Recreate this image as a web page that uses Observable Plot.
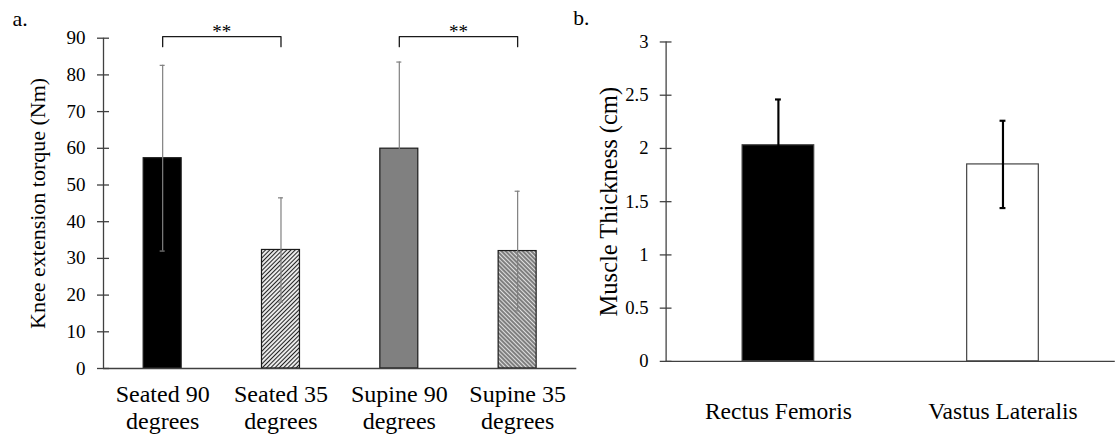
<!DOCTYPE html>
<html><head><meta charset="utf-8">
<script src="https://cdn.jsdelivr.net/npm/d3@7"></script>
<script src="https://cdn.jsdelivr.net/npm/@observablehq/plot@0.6"></script>
<style>
html,body{margin:0;padding:0;background:#fff;overflow:hidden;}
#wrap{position:relative;width:1119px;height:440px;overflow:hidden;}
#a{position:absolute;left:0;top:0;}
#b{position:absolute;left:560px;top:0;}
svg{overflow:visible;}
</style></head><body><div id="wrap"><div id="a"></div><div id="b"></div></div>
<script>
// ---------- data ----------
const torqueCategories = ["Seated 90 degrees", "Seated 35 degrees", "Supine 90 degrees", "Supine 35 degrees"];
const torqueMeans = [57.3, 32.3, 59.9, 32.0];
const torqueSD = [25.3, 14.2, 23.6, 16.3];
const torqueTicks = [0, 10, 20, 30, 40, 50, 60, 70, 80, 90];
const torqueLabel = "Knee extension torque (Nm)";
const brackets = [
  {id: 1, from: "Seated 90 degrees", to: "Seated 35 degrees", label: "**"},
  {id: 2, from: "Supine 90 degrees", to: "Supine 35 degrees", label: "**"}
];
const thicknessCategories = ["Rectus Femoris", "Vastus Lateralis"];
const thicknessMeans = [2.03, 1.85];
const thicknessSD = [0.43, 0.41];
const thicknessTicks = [0, 0.5, 1, 1.5, 2, 2.5, 3];
const thicknessLabel = "Muscle Thickness (cm)";
const panelLabels = ["a.", "b."];

// ---------- styling ----------
const FONT = "'Liberation Serif','Times New Roman',serif";
const AXIS = "#404040";

function addPatterns(svgEl) {
  const svg = d3.select(svgEl);
  const defs = svg.insert("defs", ":first-child");
  const up = defs.append("pattern").attr("id", "hatchUp").attr("patternUnits", "userSpaceOnUse")
    .attr("width", 3).attr("height", 3).attr("patternTransform", "rotate(45)");
  up.append("rect").attr("width", 3).attr("height", 3).attr("fill", "#fff");
  up.append("line").attr("x1", 1.5).attr("x2", 1.5).attr("y1", 0).attr("y2", 3)
    .attr("stroke", "#222").attr("stroke-width", 1.2);
  const down = defs.append("pattern").attr("id", "hatchDown").attr("patternUnits", "userSpaceOnUse")
    .attr("width", 3).attr("height", 3).attr("patternTransform", "rotate(-45)");
  down.append("rect").attr("width", 3).attr("height", 3).attr("fill", "#7a7a7a");
  down.append("line").attr("x1", 1.5).attr("x2", 1.5).attr("y1", 0).attr("y2", 3)
    .attr("stroke", "#e0e0e0").attr("stroke-width", 1.1);
}

// ---------- panel a ----------
const torque = torqueCategories.map((c, i) => ({cat: c, mean: torqueMeans[i], sd: torqueSD[i]}));
const WA = 580, MLA = 103, MRA = 3.7;
const stepA = (WA - MLA - MRA) / torqueCategories.length;
const bwA = stepA * (1 - 0.679);
const capA = 5;
const bracketTop = 90.45, bracketDrop = 87.7;
const bracketPts = brackets.flatMap(b => [
  {id: b.id, x: b.from, y: bracketDrop}, {id: b.id, x: b.from, y: bracketTop},
  {id: b.id, x: b.to, y: bracketTop}, {id: b.id, x: b.to, y: bracketDrop}
]);

const chartA = Plot.plot({
  width: WA, height: 440, marginLeft: MLA, marginRight: MRA, marginTop: 37.7, marginBottom: 72,
  style: {fontFamily: FONT, background: "transparent", color: "#000", overflow: "visible"},
  x: {domain: torqueCategories, paddingInner: 0.679, paddingOuter: 0.3395, round: false, axis: null},
  y: {domain: [0, 90], axis: null},
  color: {domain: torqueCategories, range: ["#000000", "url(#hatchUp)", "#808080", "url(#hatchDown)"]},
  marks: [
    Plot.barY(torque, {x: "cat", y: "mean", fill: "cat", stroke: "#1a1a1a", strokeWidth: 1.2}),
    Plot.ruleX(torque, {x: "cat", y1: d => d.mean - d.sd, y2: d => d.mean + d.sd, stroke: "#808080", strokeWidth: 1.2}),
    Plot.tickY(torque, {x: "cat", y: d => d.mean + d.sd, stroke: "#808080", strokeWidth: 1.2, insetLeft: (bwA - capA) / 2, insetRight: (bwA - capA) / 2}),
    Plot.tickY(torque, {x: "cat", y: d => d.mean - d.sd, stroke: "#808080", strokeWidth: 1.2, insetLeft: (bwA - capA) / 2, insetRight: (bwA - capA) / 2}),
    Plot.ruleY([0], {stroke: AXIS, strokeWidth: 1.3}),
    Plot.ruleX([0], {x: null, dx: -(WA - MLA - MRA) / 2, stroke: AXIS, strokeWidth: 1.3}),
    Plot.axisY({ticks: torqueTicks, tickSize: 12, dx: 6, tickPadding: 12, fontSize: 19, label: null, stroke: AXIS, strokeWidth: 1.3}),
    Plot.axisX({tickSize: 0, tickPadding: 14.5, fontSize: 24, lineHeight: 1.125, label: null,
      tickFormat: d => d.replace(" degrees", "\ndegrees")}),
    Plot.line(bracketPts, {x: "x", y: "y", z: "id", stroke: "#1a1a1a", strokeWidth: 1.3}),
    Plot.text(brackets, {x: "from", y: bracketTop, text: "label", dx: stepA / 2, dy: -4.6, lineAnchor: "middle", fontSize: 19}),
    Plot.text([torqueLabel], {frameAnchor: "left", rotate: -90, dx: -74, lineAnchor: "top", textAnchor: "middle", fontSize: 22, text: d => d}),
    Plot.text([panelLabels[0]], {frameAnchor: "top-left", dx: 12 - MLA, dy: 18 - 37.7, lineAnchor: "middle", textAnchor: "start", fontSize: 22, text: d => d})
  ]
});
addPatterns(chartA);
document.getElementById("a").appendChild(chartA);

// ---------- panel b ----------
const thickness = thicknessCategories.map((c, i) => ({cat: c, mean: thicknessMeans[i], sd: thicknessSD[i]}));
const WB = 570, MLB = 107.7, MRB = 4.3;
const stepB = (WB - MLB - MRB) / thicknessCategories.length;
const bwB = stepB * (1 - 0.681);
const capB = 6;
const chartB = Plot.plot({
  width: WB, height: 440, marginLeft: MLB, marginRight: MRB, marginTop: 42.3, marginBottom: 72,
  style: {fontFamily: FONT, background: "transparent", color: "#000", overflow: "visible"},
  x: {domain: thicknessCategories, paddingInner: 0.681, paddingOuter: 0.3405, round: false, axis: null},
  y: {domain: [0, 3], axis: null},
  color: {domain: thicknessCategories, range: ["#000000", "#ffffff"]},
  marks: [
    Plot.barY(thickness, {x: "cat", y: "mean", fill: "cat", stroke: AXIS, strokeWidth: 1.2}),
    Plot.ruleX(thickness, {x: "cat", y1: d => d.mean - d.sd, y2: d => d.mean + d.sd, stroke: "#000", strokeWidth: 2.2}),
    Plot.tickY(thickness, {x: "cat", y: d => d.mean + d.sd, stroke: "#000", strokeWidth: 2.2, insetLeft: (bwB - capB) / 2, insetRight: (bwB - capB) / 2}),
    Plot.tickY(thickness, {x: "cat", y: d => d.mean - d.sd, stroke: "#000", strokeWidth: 2.2, insetLeft: (bwB - capB) / 2, insetRight: (bwB - capB) / 2}),
    Plot.ruleY([0], {stroke: AXIS, strokeWidth: 1.3}),
    Plot.ruleX([0], {x: null, dx: -(WB - MLB - MRB) / 2, stroke: AXIS, strokeWidth: 1.3}),
    Plot.axisY({ticks: thicknessTicks, tickSize: 12, dx: 6, tickPadding: 12, fontSize: 19, label: null, stroke: AXIS, strokeWidth: 1.3, tickFormat: d => String(d)}),
    Plot.axisX({tickSize: 0, tickPadding: 42, fontSize: 24, label: null}),
    Plot.text([thicknessLabel], {frameAnchor: "left", rotate: -90, dx: -67.5, lineAnchor: "top", textAnchor: "middle", fontSize: 25, text: d => d}),
    Plot.text([panelLabels[1]], {frameAnchor: "top-left", dx: 573 - 560 - MLB, dy: 18 - 42.3, lineAnchor: "middle", textAnchor: "start", fontSize: 22, text: d => d})
  ]
});
document.getElementById("b").appendChild(chartB);
</script></body></html>
